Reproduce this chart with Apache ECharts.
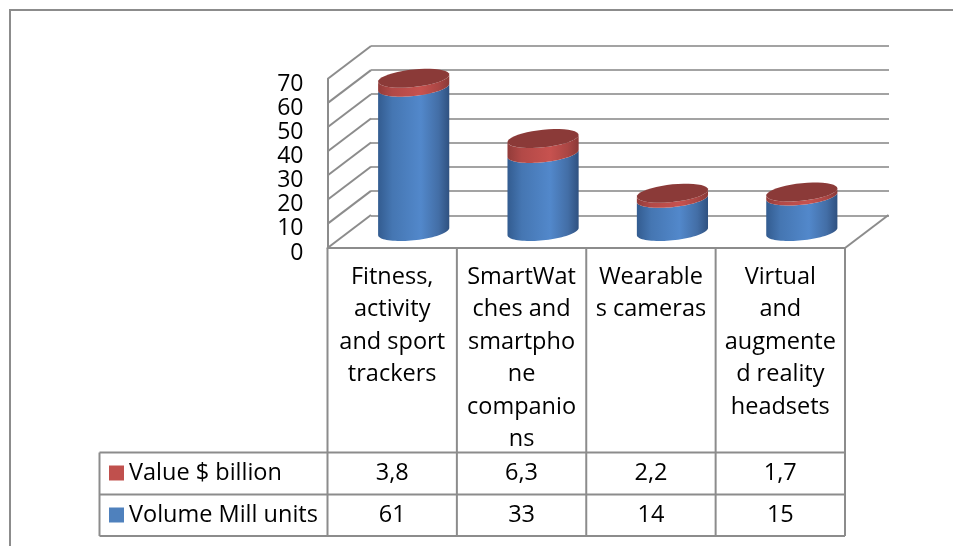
<!DOCTYPE html>
<html><head><meta charset="utf-8">
<style>html,body{margin:0;padding:0;background:#fff}#c{width:953px;height:546px}</style>
<script src="https://cdn.jsdelivr.net/npm/echarts@6/dist/echarts.min.js"></script>
</head><body><div id="c"></div>
<script>
var categories = ['Fitness,\nactivity\nand sport\ntrackers','SmartWat\nches and\nsmartpho\nne\ncompanio\nns','Wearable\ns cameras','Virtual\nand\naugmente\nd reality\nheadsets'];
var volume = [61,33,14,15];
var value = [3.8,6.3,2.2,1.7];
var yTicks = {min:0,max:70,interval:10};
var FONT='Open Sans', GRAY='#8c8c8c';
var DEPTH=[43.5,-33], MID=[21.5,-16.5], FORESHORTEN=0.98;
function comma(v){return String(v).replace('.',',');}
var chart = echarts.init(document.getElementById('c'));
function ellipsePts(cx,cy,a,from,to){
  var pts=[],n=40,k=-0.1,b=8.8;
  for(var i=0;i<=n;i++){var t=from+(to-from)*i/n;
    pts.push([cx+a*Math.cos(t),cy+b*Math.sin(t)+k*a*Math.cos(t)]);}
  return pts;
}
function grad(stops){return {type:'linear',x:0,y:0,x2:1,y2:0,colorStops:stops.map(function(s){return {offset:s[0],color:s[1]};})};}
var blueG=grad([[0,'#335c90'],[0.2,'#4576b2'],[0.6,'#5288cb'],[0.85,'#436ea6'],[1,'#2f5180']]);
var redG=grad([[0,'#923c3a'],[0.2,'#b24947'],[0.6,'#c7524f'],[0.85,'#aa4644'],[1,'#8a3937']]);
function cylinder(side,cap){
  return function(params,api){
    var i=api.value(0), lo=api.value(2), hi=lo+api.value(1);
    var band=api.size([1,0])[0], a=band*0.275;
    var base=api.coord([i,0])[1];
    function py(v){return base+MID[1]+(api.coord([i,v])[1]-base)*FORESHORTEN;}
    var cx=api.coord([i,0])[0]+MID[0], y0=py(lo), y1=py(hi);
    var kids=[];
    var lower0=ellipsePts(cx,y0,a,Math.PI,0), upper=ellipsePts(cx,y1,a,0,Math.PI);
    kids.push({type:'polygon',shape:{points:lower0.concat(upper)},style:{fill:side}});
    if(cap){kids.push({type:'polygon',shape:{points:ellipsePts(cx,y1,a,0,Math.PI*2)},style:{fill:cap}});}
    return {type:'group',children:kids};
  };
}
function frame(params,api){
  var band=api.size([1,0])[0], o=api.coord([0,0]), left=o[0]-band/2, bottom=o[1];
  var right=left+band*categories.length, kids=[];
  var st={stroke:GRAY,lineWidth:2};
  function line(x1,y1,x2,y2,s){kids.push({type:'line',shape:{x1:x1,y1:y1,x2:x2,y2:y2},style:s||st});}
  for(var v=yTicks.min;v<=yTicks.max;v+=yTicks.interval){
    var y=api.coord([0,v])[1];
    line(left,y,left+DEPTH[0],y+DEPTH[1]);
  }
  line(right,bottom,right+DEPTH[0],bottom+DEPTH[1]);
  for(var i=0;i<=categories.length;i++){line(left+band*i,bottom,left+band*i,536);}
  [452.5,494.5,536].forEach(function(y){line(99.5,y,right,y);});
  line(99.5,452.5,99.5,536);
  return {type:'group',children:kids};
}
var lbl={color:'#000',fontFamily:FONT,fontSize:23.5};
chart.setOption({
  animation:false,
  backgroundColor:'#fff',
  graphic:[{type:'polyline',silent:true,shape:{points:[[10,546],[10,10],[953,10]]},style:{stroke:GRAY,lineWidth:2,fill:null}}],
  legend:{data:['Value $ billion','Volume Mill units'],orient:'vertical',left:109,top:461,padding:0,itemWidth:15,itemHeight:15,itemGap:18,icon:'rect',
    selectedMode:false,textStyle:{color:'#000',fontFamily:FONT,fontSize:23.5,lineHeight:15}},
  grid:[
    {left:327.5,top:79,width:517.5,height:169},
    {left:371,top:45.5,width:518,height:170}
  ],
  xAxis:[
    {gridIndex:0,type:'category',data:categories,axisLine:{lineStyle:{color:GRAY,width:2}},axisTick:{show:false},
      axisLabel:Object.assign({margin:13,lineHeight:32.5,interval:0},lbl)},
    {gridIndex:0,type:'category',data:value.map(comma),position:'bottom',offset:213,axisLine:{show:false},axisTick:{show:false},
      axisLabel:Object.assign({margin:0,interval:0},lbl)},
    {gridIndex:0,type:'category',data:volume.map(comma),position:'bottom',offset:255,axisLine:{show:false},axisTick:{show:false},
      axisLabel:Object.assign({margin:0,interval:0},lbl)},
    {gridIndex:1,type:'category',data:categories,axisLine:{show:false},axisTick:{show:false},axisLabel:{show:false}}
  ],
  yAxis:[
    {gridIndex:0,type:'value',min:yTicks.min,max:yTicks.max,interval:yTicks.interval,axisLine:{show:true,lineStyle:{color:GRAY,width:2}},axisTick:{show:false},splitLine:{show:false},
      axisLabel:Object.assign({},lbl,{fontSize:23,margin:24,verticalAlign:'top',lineHeight:10})},
    {gridIndex:1,type:'value',min:yTicks.min,max:yTicks.max,interval:yTicks.interval,axisLine:{show:false},axisTick:{show:false},axisLabel:{show:false},
      splitLine:{show:true,lineStyle:{color:'#a3a3a3',width:2}}}
  ],
  series:[
    {type:'custom',name:'frame',xAxisIndex:0,yAxisIndex:0,silent:true,clip:false,z:1,renderItem:frame,data:[[0,0]],encode:{x:0,y:1}},
    {type:'custom',name:'Volume Mill units',xAxisIndex:0,yAxisIndex:0,clip:false,z:3,itemStyle:{color:'#4f81bd'},renderItem:cylinder(blueG,null),
      data:volume.map(function(v,i){return [i,v,0];}),encode:{x:0,y:1}},
    {type:'custom',name:'Value $ billion',xAxisIndex:0,yAxisIndex:0,clip:false,z:4,itemStyle:{color:'#c0504d'},renderItem:cylinder(redG,'#8b3a38'),
      data:value.map(function(v,i){return [i,v,volume[i]];}),encode:{x:0,y:1}}
  ]
});
</script></body></html>
